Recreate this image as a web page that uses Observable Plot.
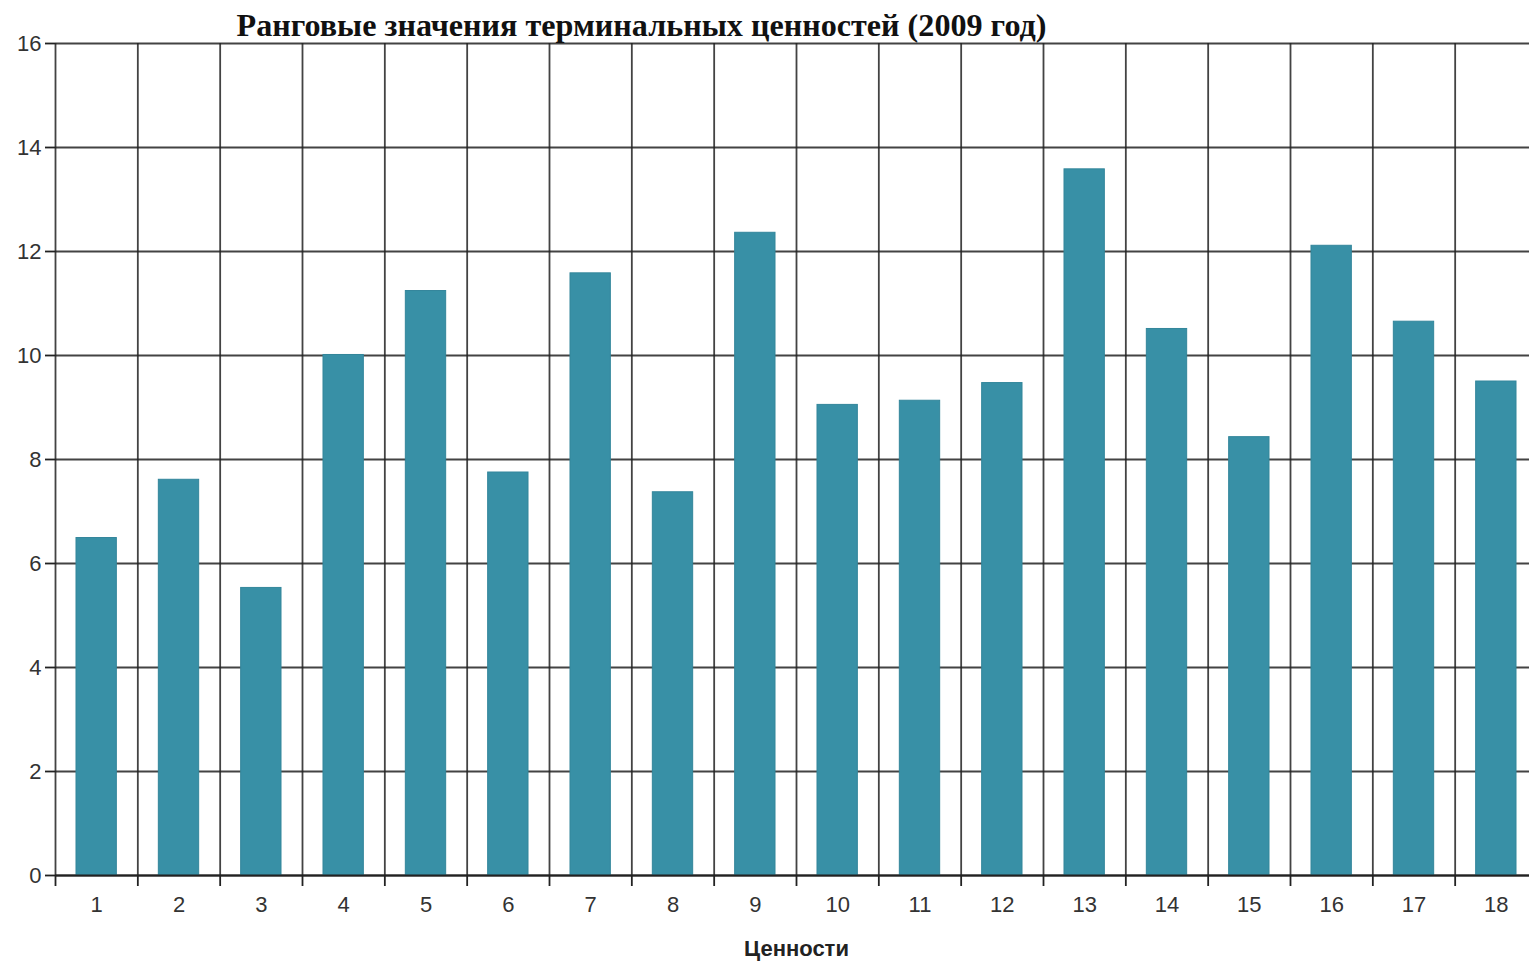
<!DOCTYPE html>
<html>
<head>
<meta charset="utf-8">
<script src="https://cdn.jsdelivr.net/npm/d3@7"></script>
<script src="https://cdn.jsdelivr.net/npm/@observablehq/plot@0.6"></script>
<style>
  html, body { margin: 0; padding: 0; background: #fff; overflow: hidden; }
  #chart svg { overflow: hidden; }
</style>
</head>
<body>
<div id="chart"></div>
<script>
const title = "Ранговые значения терминальных ценностей (2009 год)";
const xLabel = "Ценности";
const categories = [1, 2, 3, 4, 5, 6, 7, 8, 9, 10, 11, 12, 13, 14, 15, 16, 17, 18];
const values = [6.49, 7.61, 5.53, 10.01, 11.24, 7.75, 11.58, 7.37, 12.36, 9.05, 9.13, 9.47, 13.58, 10.51, 8.43, 12.11, 10.65, 9.5];
const yTicks = [0, 2, 4, 6, 8, 10, 12, 14, 16];

const data = categories.map((c, i) => ({cat: c, value: values[i]}));
const boundaries = d3.range(0, categories.length + 1).map(i => i + 0.5);
const barHalf = 0.245;
const grid = "#222";

const chart = Plot.plot({
  width: 1529,
  height: 963,
  marginLeft: 55,
  marginRight: -8,
  marginTop: 43,
  marginBottom: 88,
  style: {fontFamily: "'Liberation Sans', Arial, sans-serif", fontSize: "22px", color: "#333", background: "#fff"},
  x: {domain: [0.5, categories.length + 0.5]},
  y: {domain: [0, 16]},
  marks: [
    Plot.ruleY(yTicks, {stroke: grid, strokeWidth: 1.8, strokeOpacity: 0.85}),
    Plot.ruleX(boundaries, {stroke: grid, strokeWidth: 1.8, strokeOpacity: 0.85}),
    Plot.rectY(data, {
      x1: d => d.cat - barHalf,
      x2: d => d.cat + barHalf,
      y1: 0,
      y2: "value",
      fill: "#3890a6",
      stroke: "#33869b",
      strokeWidth: 1
    }),
    Plot.axisY({ticks: yTicks, tickSize: 10, tickPadding: 4, stroke: grid, strokeWidth: 1.8, fill: "#333", fontSize: 22, label: null}),
    Plot.axisX({ticks: boundaries, tickSize: 11, tickFormat: () => "", stroke: grid, strokeWidth: 1.8, label: null}),
    Plot.axisX({ticks: categories, tickSize: 0, tickPadding: 21, fill: "#333", fontSize: 22, label: null}),
    Plot.ruleY([0], {stroke: grid, strokeWidth: 1.8}),
    Plot.text([xLabel], {frameAnchor: "bottom", dy: 73, fontWeight: "bold", fontSize: 22, fill: "#222", lineAnchor: "middle"}),
    Plot.text([title], {frameAnchor: "top-left", textAnchor: "start", dx: 181, dy: -17, fontFamily: "'Liberation Serif', 'DejaVu Serif', serif", fontWeight: "bold", fontSize: 31, fill: "#111", lineAnchor: "middle", className: "title-text"})
  ]
});

document.getElementById("chart").appendChild(chart);
const t = chart.querySelector("g.title-text text") || chart.querySelector(".title-text text");
if (t) {
  t.setAttribute("textLength", 810);
  t.setAttribute("lengthAdjust", "spacingAndGlyphs");
}
</script>
</body>
</html>
